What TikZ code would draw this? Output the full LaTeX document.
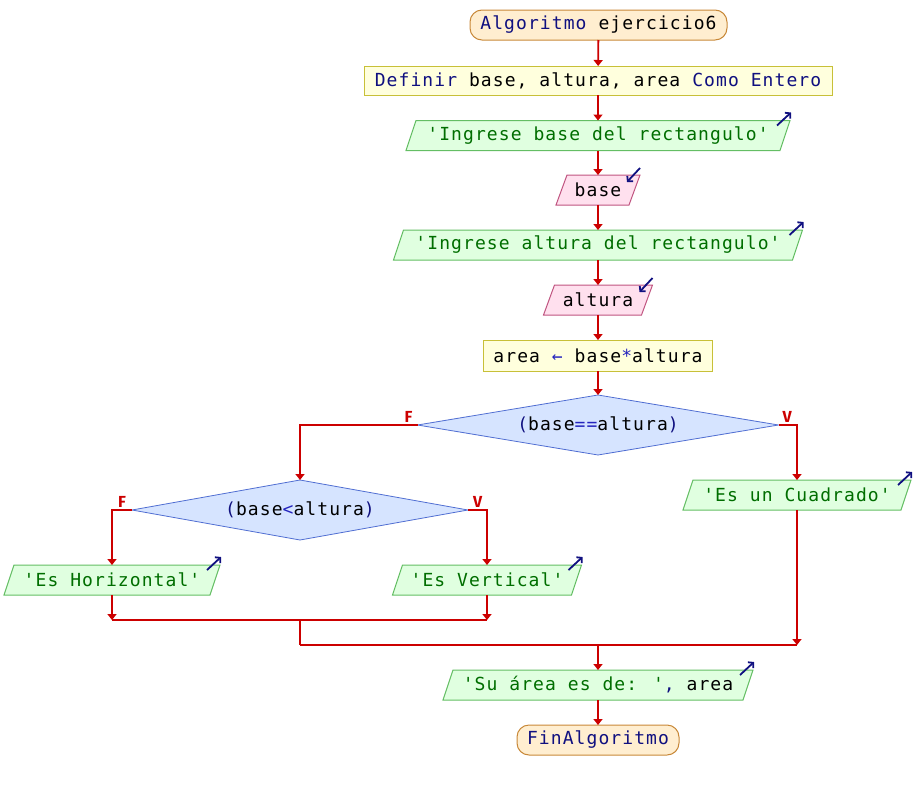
\documentclass[tikz,border=0pt]{standalone}
\usepackage{fontspec}
\usetikzlibrary{arrows.meta,shapes.geometric,backgrounds}
\newfontfamily\codefont{DejaVu Sans Mono}[Ligatures=TeXOff,LetterSpace=6]
\newfontfamily\tagfont{Fira Sans}[Ligatures=TeXOff]

\definecolor{kw}{RGB}{16,16,128}
\definecolor{opc}{RGB}{36,36,190}
\definecolor{str}{RGB}{0,110,0}
\definecolor{flowred}{RGB}{204,0,0}
\definecolor{termfill}{RGB}{255,238,208}
\definecolor{termline}{RGB}{200,136,56}
\definecolor{procfill}{RGB}{255,255,221}
\definecolor{procline}{RGB}{200,192,56}
\definecolor{outfill}{RGB}{224,255,224}
\definecolor{outline}{RGB}{100,190,100}
\definecolor{infill}{RGB}{255,224,238}
\definecolor{inline}{RGB}{192,84,128}
\definecolor{decfill}{RGB}{214,228,255}
\definecolor{decline}{RGB}{80,110,210}

\begin{document}
\begin{tikzpicture}[x=1pt,y=-1pt,
  every node/.style={inner sep=0pt,outer sep=0pt},
  code/.style={font=\codefont\fontsize{18}{22}\selectfont},
  term/.style={code,draw=termline,fill=termfill,line width=1pt,rounded corners=12pt,minimum height=30pt},
  proc/.style={code,draw=procline,fill=procfill,line width=1pt,minimum height=30pt},
  io/.style={code,minimum height=30pt},
  dec/.style={code,diamond,draw=decline,fill=decfill,line width=0.8pt,shape aspect=6,minimum height=60pt},
  outshape/.style={draw=outline,fill=outfill,line width=1pt},
  inshape/.style={draw=inline,fill=infill,line width=1pt},
  flow/.style={draw=flowred,line width=1.8pt,-{Triangle[width=9pt,length=6pt]}},
  link/.style={draw=flowred,line width=1.8pt},
  tag/.style={font=\tagfont\bfseries\fontsize{16}{18}\selectfont,text=flowred},
  icon/.style={draw=kw,line width=1.8pt,-{Straight Barb[length=3.5pt,width=8pt]}}
]
\useasboundingbox (0,0) rectangle (916,790);

% statements of the main column
\node[term,minimum width=257pt] (start) at (598.5,25) {{\color{kw}Algoritmo} ejercicio6};
\node[proc,minimum width=468pt,minimum height=29pt] (def) at (598,80.5)
  {{\color{kw}Definir} base, altura, area {\color{kw}Como Entero}};
\node[io,minimum width=384pt] (ib) at (598,135.5) {\color{str}'Ingrese base del rectangulo'};
\node[io,minimum width=84pt] (rb) at (598,190) {base};
\node[io,minimum width=409pt] (ia) at (598,245) {\color{str}'Ingrese altura del rectangulo'};
\node[io,minimum width=109pt] (ra) at (598,300) {altura};
\node[proc,minimum width=229pt,minimum height=31pt] (calc) at (598,355.5)
  {area {\color{opc}←} base{\color{opc}*}altura};
\node[dec,minimum width=361pt] (d1) at (598,425)
  {{\color{kw}(}base{\color{opc}==}altura{\color{kw})}};

% branches
\node[io,minimum width=228pt] (cu) at (797,495) {\color{str}'Es un Cuadrado'};
\node[dec,minimum width=336pt] (d2) at (300,510)
  {{\color{kw}(}base{\color{opc}<}altura{\color{kw})}};
\node[io,minimum width=216pt] (hz) at (112,580) {\color{str}'Es Horizontal'};
\node[io,minimum width=189pt] (vt) at (487,580) {\color{str}'Es Vertical'};

% closing statements
\node[io,minimum width=310pt] (su) at (598,685)
  {{\color{str}'Su área es de: '}{\color{kw},} area};
\node[term,minimum width=162pt] (fin) at (598,740) {\color{kw}FinAlgoritmo};

% parallelogram bodies of the input/output nodes
\begin{scope}[on background layer]
  \foreach \n in {ib,ia,cu,hz,vt,su}
    \path[outshape] (\n.south west) -- ([xshift=10pt]\n.north west)
      -- (\n.north east) -- ([xshift=-10pt]\n.south east) -- cycle;
  \foreach \n in {rb,ra}
    \path[inshape] (\n.south west) -- ([xshift=11pt]\n.north west)
      -- (\n.north east) -- ([xshift=-11pt]\n.south east) -- cycle;
\end{scope}

% write / read markers
\foreach \n in {ib,ia,cu,hz,vt,su}
  \draw[icon] ([shift={(-13,5)}]\n.north east) -- ++(14,-13);
\foreach \n in {rb,ra}
  \draw[icon] ([shift={(0,-7)}]\n.north east) -- ++(-13,14);

% junction points
\coordinate (j1l) at (112,620);
\coordinate (j1r) at (487,620);
\coordinate (j1m) at (300,620);
\coordinate (j2l) at (300,645);
\coordinate (j2r) at (797,645);
\coordinate (j2m) at (598,645);

% flow
\draw[flow] (start) -- (def);
\draw[flow] (def) -- (ib);
\draw[flow] (ib) -- (rb);
\draw[flow] (rb) -- (ia);
\draw[flow] (ia) -- (ra);
\draw[flow] (ra) -- (calc);
\draw[flow] (calc) -- (d1);
\draw[flow] (d1.west) -| (d2.north);
\draw[flow] (d1.east) -| (cu);
\draw[flow] (d2.west) -| (hz);
\draw[flow] (d2.east) -| (vt);
\draw[flow] (hz) -- (j1l);
\draw[flow] (vt) -- (j1r);
\draw[link] (j1l) -- (j1r);
\draw[link] (j1m) -- (j2l);
\draw[flow] (cu) -- (j2r);
\draw[link] (j2l) -- (j2r);
\draw[flow] (j2m) -- (su);
\draw[flow] (su) -- (fin);

% branch labels
\node[tag,anchor=south east] (f1) at ([shift={(-5,-3)}]d1.west) {F};
\node[tag,anchor=south west] (v1) at ([shift={(4,-3)}]d1.east) {V};
\node[tag,anchor=south east] (f2) at ([shift={(-6,-3)}]d2.west) {F};
\node[tag,anchor=south west] (v2) at ([shift={(5,-3)}]d2.east) {V};
\end{tikzpicture}
\end{document}
